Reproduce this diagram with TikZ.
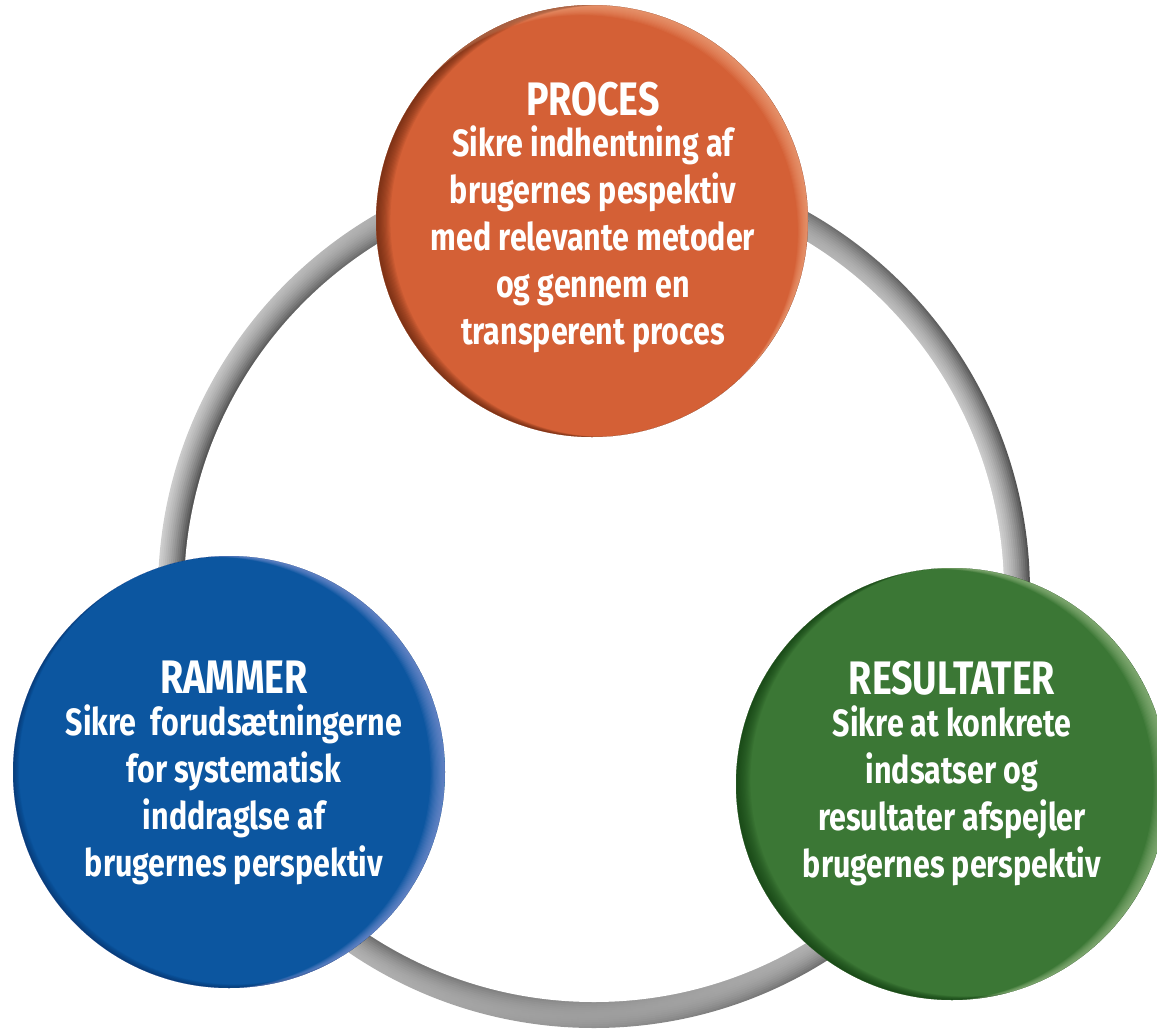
\documentclass[tikz,border=0pt]{standalone}
\usepackage{fontspec}
\usetikzlibrary{calc}
\newfontfamily\labelfont{Fira Sans}[FakeStretch=0.80]

\definecolor{procesorange}{RGB}{212,96,54}
\definecolor{processhadow}{RGB}{92,34,12}
\definecolor{proceslight}{RGB}{246,178,140}
\definecolor{rammerblue}{RGB}{12,86,160}
\definecolor{rammershadow}{RGB}{8,40,90}
\definecolor{rammerlight}{RGB}{150,160,222}
\definecolor{resultgreen}{RGB}{59,119,53}
\definecolor{resultshadow}{RGB}{16,60,16}
\definecolor{resultlight}{RGB}{170,200,150}

\tikzset{
  disc/.style={circle, minimum size=432pt, inner sep=0pt, fill=#1},
  lbl/.style={text=white, align=center, inner sep=0pt,
    font=\labelfont\bfseries\fontsize{38}{47}\selectfont},
}
\newcommand\titlesize{\fontsize{47}{47}\selectfont}

% soft rim: stacked crescents clipped to the disc
% #1 centre, #2 shadow colour, #3 shadow step, #4 light colour, #5 light step
\newcommand\discrim[6]{%
  \begin{scope}
    \clip (#1) circle (216pt);
    \foreach \k in {1,...,12}{
      \fill[#2, opacity=#6, even odd rule]
        (#1) circle (216pt) ($(#1)+\k*(#3)$) circle (216pt);
      \fill[#4, opacity=0.08, even odd rule]
        (#1) circle (216pt) ($(#1)+\k*(#5)$) circle (216pt);
    }
  \end{scope}}

\begin{document}
\begin{tikzpicture}[x=1pt,y=-1pt]
  \useasboundingbox (0,0) rectangle (1157,1029);

  % grey tube ring, lit from the left
  \coordinate (ringc) at (594,592);
  \foreach \j in {12,...,0}{
    \pgfmathsetmacro\s{(\j+0.5)/13*2-1}
    \pgfmathsetmacro\ga{0.62+0.26*\s-0.06*\s*\s}
    \pgfmathsetmacro\gb{0.62-0.26*\s-0.06*\s*\s}
    \definecolor{tubeA}{gray}{\ga}
    \definecolor{tubeB}{gray}{\gb}
    \shade[left color=tubeA, right color=tubeB]
      (ringc) circle ({410+2*(\j+1)});
  }
  \fill[white] (ringc) circle (410pt);

  % PROCES
  \node[disc=procesorange] (procesdisc) at (592,221) {};
  \discrim{procesdisc.center}{processhadow}{1.2,0}{proceslight}{-0.85,0.85}{0.09}
  \node[lbl, anchor=north] (proces) at (593,82)
    {{\titlesize PROCES}\\[-6pt] Sikre indhentning af\\ brugernes pespektiv\\
     med relevante metoder\\ og gennem en\\ transperent proces};

  % RAMMER
  \node[disc=rammerblue] (rammerdisc) at (229,772) {};
  \discrim{rammerdisc.center}{rammershadow}{0.5,-0.3}{rammerlight}{-1.2,0.1}{0.05}
  \node[lbl, anchor=north] (rammer) at (234,661)
    {{\titlesize RAMMER}\\[-5pt] Sikre \ forudsætningerne\\ for systematisk\\
     inddraglse af\\ brugernes perspektiv};

  % RESULTATER
  \node[disc=resultgreen] (resultdisc) at (952,784) {};
  \discrim{resultdisc.center}{resultshadow}{1.2,-0.3}{resultlight}{-1.2,0.1}{0.09}
  \node[lbl, anchor=north] (result) at (952,661)
    {{\titlesize RESULTATER}\\[-5pt] Sikre at konkrete\\ indsatser og\\
     resultater afspejler\\ brugernes perspektiv};
\end{tikzpicture}
\end{document}
